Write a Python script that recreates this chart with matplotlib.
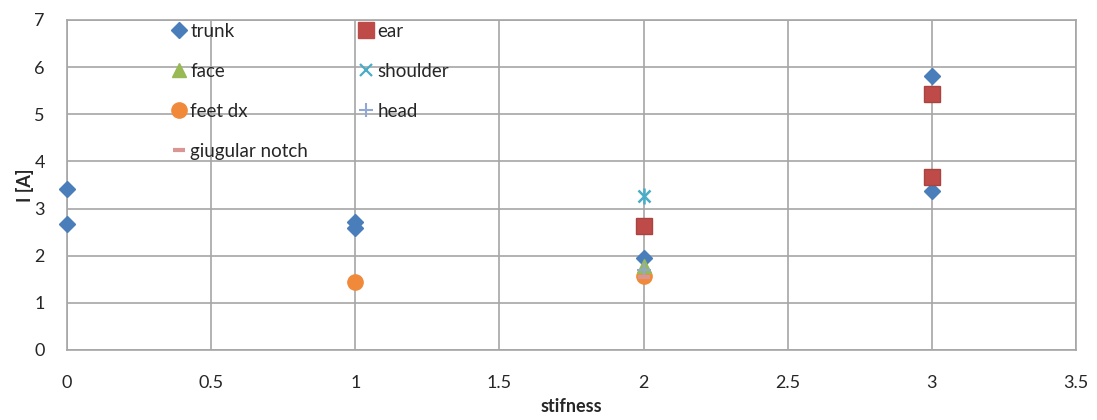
import matplotlib
matplotlib.use("Agg")
import matplotlib.pyplot as plt
from matplotlib.lines import Line2D

plt.rcParams['font.family'] = ['Lato', 'DejaVu Sans']

# Measured current per body site against stiffness level
trunk_x = [0, 0, 1, 1, 2, 3, 3]
trunk_y = [3.42, 2.68, 2.72, 2.58, 1.95, 5.82, 3.38]
ear_x = [2, 3, 3]
ear_y = [2.62, 5.42, 3.67]
face_x = [2]
face_y = [1.78]
shoulder_x = [2]
shoulder_y = [3.27]
feet_x = [1, 2]
feet_y = [1.45, 1.58]
head_x = [2]
head_y = [1.70]
notch_x = [2]
notch_y = [1.55]

x_ticks = [0, 0.5, 1, 1.5, 2, 2.5, 3, 3.5]
x_tick_labels = ["0", "0.5", "1", "1.5", "2", "2.5", "3", "3.5"]
y_ticks = [0, 1, 2, 3, 4, 5, 6, 7]

fig = plt.figure(figsize=(10.97, 4.2), dpi=100)
ax = fig.add_axes([67 / 1097, 1 - 350 / 420, (1076 - 67) / 1097, (350 - 20) / 420])

c_trunk = '#4A7EBB'
c_ear = '#BE4B48'
c_face = '#98B954'
c_shoulder = '#4BACC6'
c_feet = '#F08A3A'
c_head = '#8FA8D8'
c_notch = '#D99694'
c_text = '#262626'

kw = dict(linestyle='none', clip_on=False)
ax.plot(feet_x, feet_y, marker='o', color=c_feet, markersize=11, zorder=3, **kw)
ax.plot(trunk_x, trunk_y, marker='D', color=c_trunk, markersize=8.5, zorder=4, **kw)
ax.plot(ear_x, ear_y, marker='s', color=c_ear, markersize=12, markeredgecolor='#A94441', zorder=4, **kw)
ax.plot(face_x, face_y, marker='^', color=c_face, markersize=10, zorder=5, **kw)
ax.plot(shoulder_x, shoulder_y, marker='x', color=c_shoulder, markersize=9, markeredgewidth=1.8, zorder=5, **kw)
ax.plot(shoulder_x, shoulder_y, marker='|', color=c_shoulder, markersize=11, markeredgewidth=1.8, zorder=5, **kw)
ax.plot(head_x, head_y, marker='+', color=c_head, markersize=10, markeredgewidth=1.5, zorder=6, **kw)
ax.plot(notch_x, notch_y, marker='_', color=c_notch, markersize=9, markeredgewidth=3, zorder=6, **kw)

ax.set_xlim(0, 3.5)
ax.set_ylim(0, 7)
ax.set_xticks(x_ticks)
ax.set_xticklabels(x_tick_labels)
ax.set_yticks(y_ticks)
ax.grid(True, color='#A6A6A6', linewidth=1.2)
ax.set_axisbelow(True)
for s in ax.spines.values():
    s.set_color('#A6A6A6')
    s.set_linewidth(1.2)
ax.tick_params(length=0, labelsize=13, colors=c_text)
ax.tick_params(axis='y', pad=16)
ax.tick_params(axis='x', pad=18)

ax.set_xlabel('stifness', fontsize=13, fontweight='bold', labelpad=5, color=c_text)
ax.set_ylabel('I [A]', fontsize=13, fontweight='bold', labelpad=0, color=c_text)

handles = [
    Line2D([], [], linestyle='none', marker='D', color=c_trunk, markersize=8),
    Line2D([], [], linestyle='none', marker='^', color=c_face, markersize=10),
    Line2D([], [], linestyle='none', marker='o', color=c_feet, markersize=11),
    Line2D([], [], linestyle='none', marker='_', color=c_notch, markersize=8, markeredgewidth=3),
    Line2D([], [], linestyle='none', marker='s', color=c_ear, markersize=11),
    Line2D([], [], linestyle='none', marker='x', color=c_shoulder, markersize=9, markeredgewidth=1.6),
    Line2D([], [], linestyle='none', marker='+', color=c_head, markersize=10, markeredgewidth=1.5),
]
labels = ['trunk', 'face', 'feet dx', 'giugular notch', 'ear', 'shoulder', 'head']
leg = ax.legend(handles, labels, ncol=2, frameon=False, fontsize=13.5,
                loc='upper left', bbox_to_anchor=(0.098, 1.014),
                handlelength=0.6, handletextpad=0.3, labelspacing=1.22,
                columnspacing=2.8, borderaxespad=0)
for t in leg.get_texts():
    t.set_color(c_text)

fig.savefig('out.png', dpi=100)
